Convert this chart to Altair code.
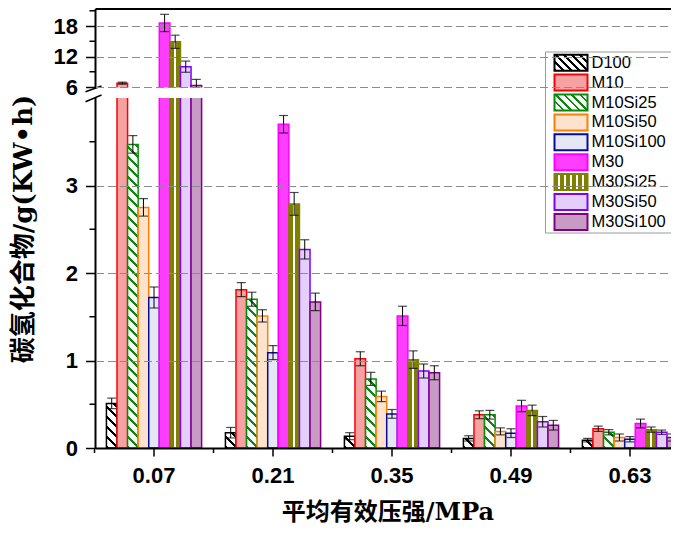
import altair as alt
import pandas as pd

# ---------------- data ----------------
groups = ["0.07", "0.21", "0.35", "0.49", "0.63"]
series = ["D100", "M10", "M10Si25", "M10Si50", "M10Si100",
          "M30", "M30Si25", "M30Si50", "M30Si100"]

D100 = [0.51, 0.175, 0.135, 0.11, 0.09]
M10 = [6.75, 1.81, 1.02, 0.38, 0.22]
M10Si25 = [3.47, 1.70, 0.79, 0.38, 0.18]
M10Si50 = [2.75, 1.51, 0.59, 0.19, 0.12]
M10Si100 = [1.72, 1.09, 0.39, 0.17, 0.10]
M30 = [18.6, 3.70, 1.51, 0.48, 0.28]
M30Si25 = [14.9, 2.79, 1.01, 0.43, 0.21]
M30Si50 = [10.0, 2.27, 0.88, 0.30, 0.18]
M30Si100 = [6.3, 1.67, 0.86, 0.26, 0.12]

D100_err = [0.06, 0.06, 0.04, 0.03, 0.02]
M10_err = [0.2, 0.08, 0.08, 0.045, 0.03]
M10Si25_err = [0.1, 0.08, 0.075, 0.05, 0.03]
M10Si50_err = [0.1, 0.07, 0.06, 0.04, 0.04]
M10Si100_err = [0.12, 0.08, 0.05, 0.05, 0.03]
M30_err = [1.7, 0.1, 0.11, 0.065, 0.05]
M30Si25_err = [1.3, 0.13, 0.1, 0.06, 0.03]
M30Si50_err = [1.1, 0.11, 0.08, 0.06, 0.025]
M30Si100_err = [1.2, 0.1, 0.08, 0.055, 0.04]

series_values = [D100, M10, M10Si25, M10Si50, M10Si100, M30, M30Si25, M30Si50, M30Si100]
series_errors = [D100_err, M10_err, M10Si25_err, M10Si50_err, M10Si100_err,
                 M30_err, M30Si25_err, M30Si50_err, M30Si100_err]

stroke_colors = ["#000000", "#FF0000", "#0A8A0A", "#FF8000", "#0A0A9A",
                 "#FF00FF", "#808000", "#8000FF", "#800080"]
fill_colors = ["#FFFFFF", "#F6A2A2", "#FFFFFF", "#FDE3CD", "#E4E7F4",
               "#FF3DFF", "#808000", "#E3CFFA", "#C79BC6"]
hatch_kind = ["diag", "plain", "diag", "plain", "plain", "plain", "vstripe", "plain", "plain"]

y_ticks = [0, 1, 2, 3, 6, 12, 18]
y_minor = [0.5, 1.5, 2.5, 3.5, 9, 15, 21]

rows = []
for s, vals, errs in zip(series, series_values, series_errors):
    for g, v, e in zip(groups, vals, errs):
        rows.append({"group": g, "series": s, "value": v, "lo": v - e, "hi": v + e})
df = pd.DataFrame(rows)

# ---------------- layout ----------------
W, H = 584, 439
LOW_PX, GAP_PX = 350, 11
y_domain = [0, 4, 6, 21.35]
y_range = [H, H - LOW_PX, H - LOW_PX - GAP_PX, 0]
P_IN, P_OUT, ALIGN = 0.2, 0.054, 0.85
step = W / (len(groups) - P_IN + 2 * P_OUT)
bar_w = step * (1 - P_IN) / len(series)
px_per_unit = LOW_PX / 4.0

xscale = alt.Scale(domain=groups, paddingInner=P_IN, paddingOuter=P_OUT, align=ALIGN)
xoff_scale = alt.Scale(domain=series, paddingInner=0, paddingOuter=0)
yscale = alt.Scale(domain=y_domain, range=y_range, nice=False)

LATIN_CJK_TITLE = "DejaVu Serif, Noto Sans CJK SC"

y_axis = alt.Axis(values=y_ticks, title="碳氢化合物/g(KW•h)", grid=True, gridDash=[8, 4],
                  gridColor="#8c8c8c", gridWidth=1, domain=False, tickColor="black",
                  tickWidth=1.5, tickSize=10, labelFont="Liberation Sans", labelFontSize=22,
                  labelFontWeight="bold", labelColor="black", labelPadding=8,
                  titleFont=LATIN_CJK_TITLE, titleFontSize=26, titleFontWeight="bold",
                  titleColor="black", titlePadding=17, zindex=1)
x_axis = alt.Axis(title="平均有效压强/MPa", labelAngle=0, labelFont="Liberation Sans",
                  labelFontSize=22, labelFontWeight="bold", labelColor="black",
                  labelPadding=9, tickSize=8, tickWidth=1.5, tickColor="black",
                  domainColor="black", domainWidth=2, titleFont=LATIN_CJK_TITLE,
                  titleFontSize=24, titleFontWeight="bold", titleColor="black",
                  titlePadding=14, grid=False, zindex=1)


def diag_gradient(w, h, period, frac, fg, bg="#FFFFFF"):
    s = (w + h) / (w * w + h * h)
    n = (w + h) / period
    stops = []
    k = 0
    while k / n < 1:
        a = k / n
        b = min((k + frac) / n, 1.0)
        c = min((k + 1) / n, 1.0)
        stops += [(a, fg), (b, fg), (b, bg), (c, bg)]
        k += 1
    return {"gradient": "linear", "x1": 0, "y1": 1,
            "x2": round(w * s, 5), "y2": round(1 - h * s, 5),
            "stops": [{"offset": round(o, 5), "color": col} for o, col in stops]}


def vstripe_gradient(pattern, fg, bg="#FFFFFF"):
    tot = float(sum(pattern))
    stops, pos = [], 0.0
    for i, seg in enumerate(pattern):
        col = fg if i % 2 == 0 else bg
        stops += [(pos / tot, col), ((pos + seg) / tot, col)]
        pos += seg
    return {"gradient": "linear", "x1": 0, "y1": 0, "x2": 1, "y2": 0,
            "stops": [{"offset": round(o, 5), "color": col} for o, col in stops]}


def XE(**kw):
    return alt.X("group:N", scale=xscale, axis=x_axis, **kw)


def YE(field):
    return alt.Y(field, scale=yscale, axis=y_axis)


base = alt.Chart(df)
XO = alt.XOffset("series:N", scale=xoff_scale)

layers = []

# bars
for s, kind, fc, sc in zip(series, hatch_kind, fill_colors, stroke_colors):
    if kind == "plain":
        layers.append(base.transform_filter(alt.datum.series == s).mark_bar(
            fill=fc, stroke=sc, strokeWidth=1.5).encode(
            x=XE(), xOffset=XO, y=YE("value:Q")))
    elif kind == "vstripe":
        layers.append(base.transform_filter(alt.datum.series == s).mark_bar(
            fill=vstripe_gradient([4, 2.5, 4], sc), stroke=sc, strokeWidth=1.5).encode(
            x=XE(), xOffset=XO, y=YE("value:Q")))
    else:
        vals = series_values[series.index(s)]
        for g, v in zip(groups, vals):
            hpx = min(v, 4) * px_per_unit
            grad = diag_gradient(bar_w, hpx, 10.0, 0.28, sc)
            layers.append(base.transform_filter(
                (alt.datum.series == s) & (alt.datum.group == g)).mark_bar(
                fill=grad, stroke=sc, strokeWidth=1.5).encode(
                x=XE(), xOffset=XO, y=YE("value:Q")))

# error bars
layers.append(base.mark_rule(color="black", strokeWidth=1).encode(
    x=XE(), xOffset=XO, y=YE("lo:Q"), y2="hi:Q"))
for f in ["lo", "hi"]:
    layers.append(base.mark_tick(color="black", size=9, thickness=1.2).encode(
        x=XE(), xOffset=XO, y=YE(f + ":Q")))

deco = pd.DataFrame({"k": [0]})

# gap mask of the broken axis
layers.append(alt.Chart(deco).mark_rect(fill="white").encode(
    x=alt.value(-4), x2=alt.value(W),
    y=alt.YDatum(4, scale=yscale, axis=y_axis), y2=alt.Y2Datum(5.93)))

# axis line segments (broken)
layers.append(alt.Chart(deco).mark_rule(color="black", strokeWidth=2).encode(
    x=alt.value(0), y=alt.YDatum(0, scale=yscale, axis=y_axis), y2=alt.Y2Datum(4)))
layers.append(alt.Chart(deco).mark_rule(color="black", strokeWidth=2).encode(
    x=alt.value(0), y=alt.YDatum(6, scale=yscale, axis=y_axis), y2=alt.Y2Datum(y_domain[-1])))
# break slashes
GAP_TOP = H - LOW_PX - GAP_PX
for y_a, y_b in [(GAP_TOP + 4.7, GAP_TOP - 1), (GAP_TOP + 14.7, GAP_TOP + 8)]:
    layers.append(alt.Chart(deco).mark_rule(color="black", strokeWidth=1.5).encode(
        x=alt.value(-10), x2=alt.value(6), y=alt.value(y_a), y2=alt.value(y_b)))

# top frame line
layers.append(alt.Chart(deco).mark_rule(color="black", strokeWidth=2).encode(
    x=alt.value(0), x2=alt.value(W), y=alt.value(0)))

# minor y ticks
layers.append(alt.Chart(pd.DataFrame({"v": y_minor})).mark_rule(
    color="black", strokeWidth=1.5).encode(
    x=alt.value(-6), x2=alt.value(0), y=YE("v:Q")))

# minor x ticks (between groups)
layers.append(alt.Chart(pd.DataFrame({"group": groups})).mark_rule(
    color="black", strokeWidth=1.5, xOffset=-step * P_IN / 2).encode(
    x=XE(bandPosition=0), y=alt.value(H), y2=alt.value(H + 5)))

# legend
LEG_X0, LEG_X1, LEG_Y0, LEG_Y1 = 450, 577, 43, 224
ROW0, ROW_GAP = 53.7, 19.9
SW_X0, SW_X1, SW_H, TXT_X = 459, 492, 16, 496
layers.append(alt.Chart(deco).mark_rect(fill="white", stroke="#9a9a9a", strokeWidth=1).encode(
    x=alt.value(LEG_X0), x2=alt.value(LEG_X1), y=alt.value(LEG_Y0), y2=alt.value(LEG_Y1)))
for i, (s, kind, fc, sc) in enumerate(zip(series, hatch_kind, fill_colors, stroke_colors)):
    cy = ROW0 + i * ROW_GAP
    if kind == "plain":
        fill = fc
    elif kind == "vstripe":
        fill = vstripe_gradient([2, 1.6, 2, 1.6, 2, 1.6, 2, 1.6, 2, 1.6, 2], sc)
    else:
        fill = diag_gradient(SW_X1 - SW_X0, SW_H, 8.0, 0.3, sc)
    layers.append(alt.Chart(deco).mark_rect(fill=fill, stroke=sc, strokeWidth=2).encode(
        x=alt.value(SW_X0), x2=alt.value(SW_X1),
        y=alt.value(cy - SW_H / 2), y2=alt.value(cy + SW_H / 2)))
    layers.append(alt.Chart(deco).mark_text(
        text=s, align="left", baseline="middle", font="Liberation Sans",
        fontSize=16.5, color="black").encode(x=alt.value(TXT_X), y=alt.value(cy)))

chart = alt.layer(*layers).properties(
    width=W, height=H, background="white",
    padding={"left": 1.5, "top": 0, "right": -10, "bottom": 0}
).configure_view(stroke=None)

chart.save("out.html", embed_options={"renderer": "svg", "actions": False})
